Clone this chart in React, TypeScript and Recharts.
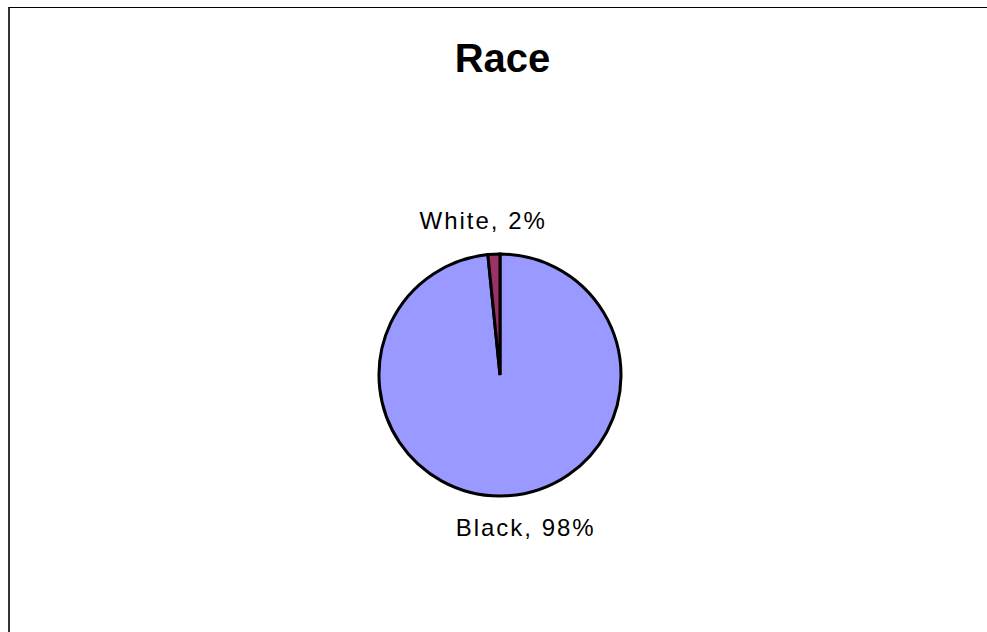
import React from "react";
import { PieChart, Pie, Cell } from "recharts";

const categories = ["Black", "White"];
const values = [98.4, 1.6];
const colors = ["#9999FF", "#993366"];
const title = "Race";

const data = categories.map((name, i) => ({ name, value: values[i] }));

const LABEL_DX = [18, -9];
const LABEL_GAP = [32, 34];
const RAD = Math.PI / 180;

const renderLabel = (props: any) => {
  const { cx, cy, midAngle, outerRadius, name, percent, index } = props;
  const r = outerRadius + LABEL_GAP[index];
  const x = cx + r * Math.cos(-midAngle * RAD) + LABEL_DX[index];
  const y = cy + r * Math.sin(-midAngle * RAD);
  return (
    <text
      x={x}
      y={y}
      textAnchor="middle"
      dominantBaseline="central"
      fill="#000"
      fontFamily="'Liberation Sans', Arial, sans-serif"
      fontSize={24}
      letterSpacing={2}
    >
      {`${name}, ${Math.round(percent * 100)}%`}
    </text>
  );
};

export default function App() {
  return (
    <div
      style={{
        position: "absolute",
        left: 0,
        top: 0,
        width: 987,
        height: 632,
        overflow: "hidden",
        background: "#fff",
      }}
    >
      <div
        style={{
          position: "absolute",
          left: 8,
          top: 7,
          width: 1000,
          height: 700,
          borderTop: "1px solid #000",
          borderLeft: "2px solid #333",
        }}
      />
      <div
        style={{
          position: "absolute",
          left: 0,
          top: 34,
          width: 1005,
          textAlign: "center",
          fontFamily: "'Liberation Sans', Arial, sans-serif",
          fontWeight: "bold",
          fontSize: 40,
          lineHeight: "48px",
          color: "#000",
        }}
      >
        {title}
      </div>
      <div style={{ position: "absolute", left: 0, top: 0 }}>
        <PieChart width={987} height={632} margin={{ top: 0, right: 0, bottom: 0, left: 0 }}>
          <Pie
            data={data}
            dataKey="value"
            nameKey="name"
            cx={500}
            cy={375}
            outerRadius={121}
            startAngle={90}
            endAngle={-270}
            stroke="#000"
            strokeWidth={3}
            label={renderLabel}
            labelLine={false}
            isAnimationActive={false}
          >
            {data.map((d, i) => (
              <Cell key={d.name} fill={colors[i]} />
            ))}
          </Pie>
        </PieChart>
      </div>
    </div>
  );
}
